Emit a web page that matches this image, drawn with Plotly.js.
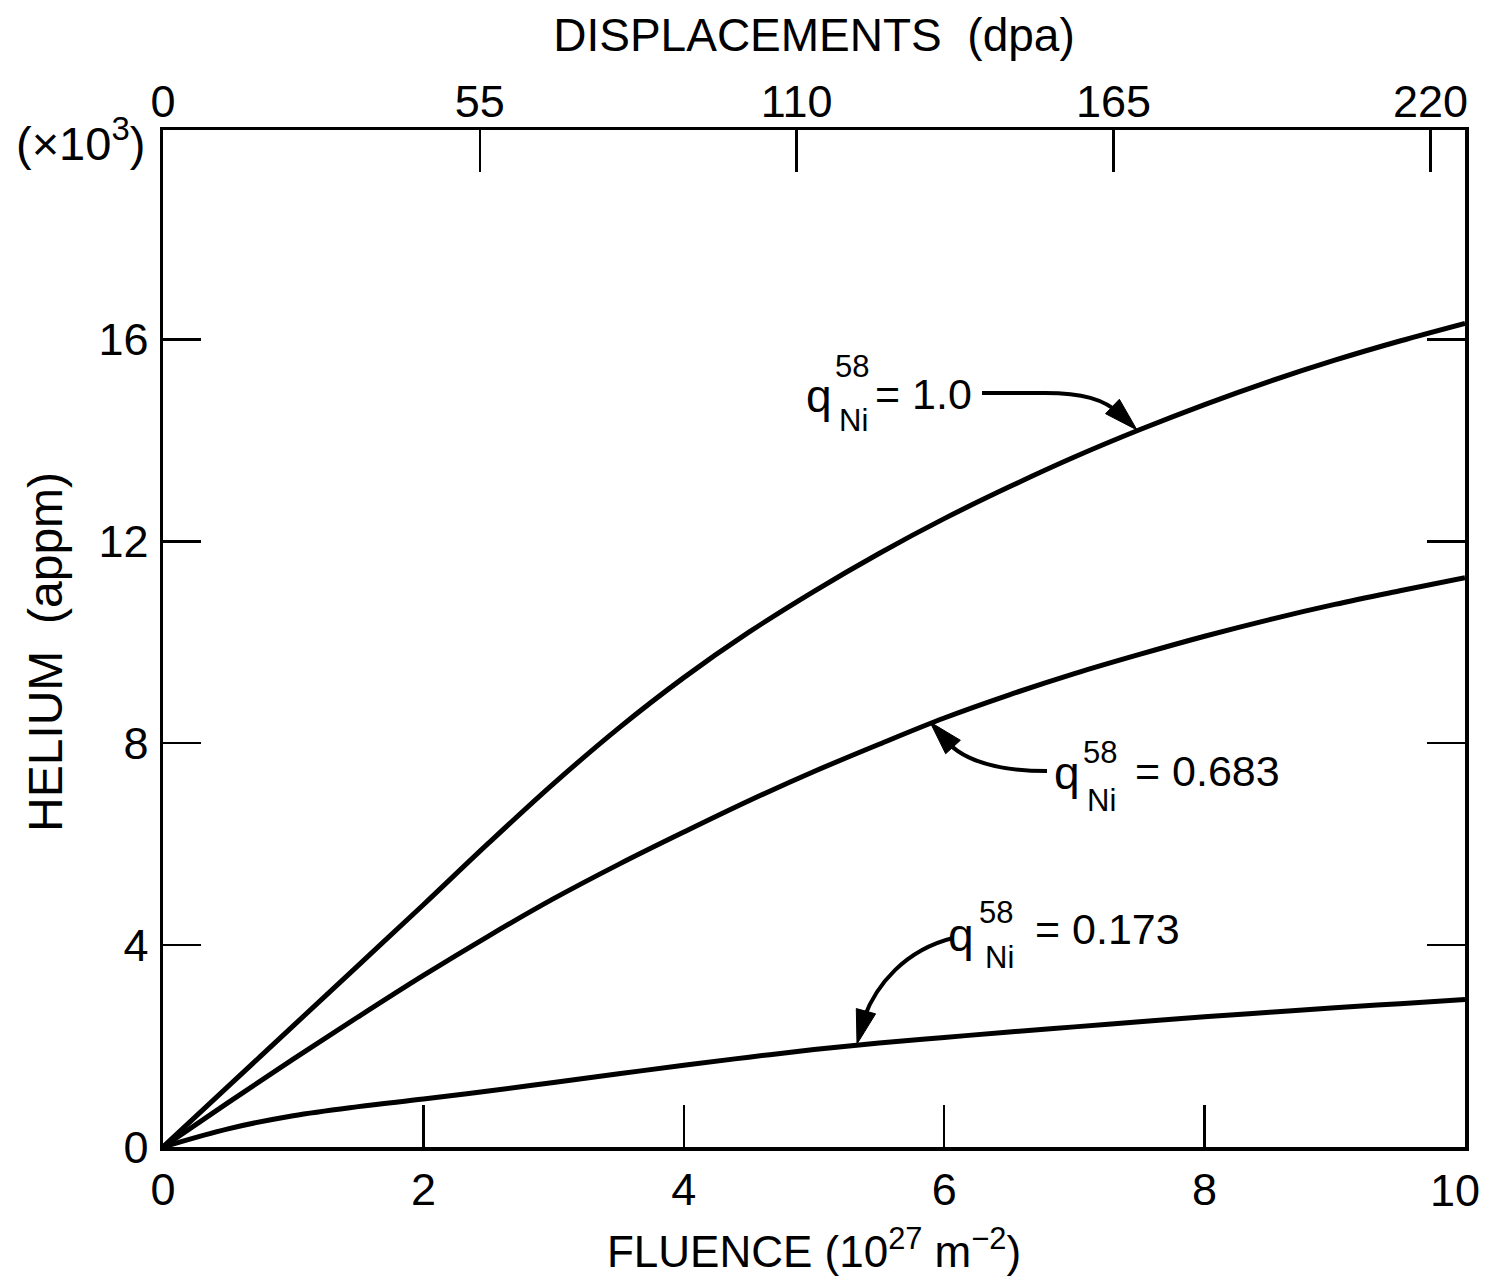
<!DOCTYPE html>
<html>
<head>
<meta charset="utf-8">
<script src="https://cdn.plot.ly/plotly-3.0.1.min.js"></script>
<style>html,body{margin:0;padding:0;background:#fff;}#chart{width:1488px;height:1276px;}</style>
</head>
<body>
<div id="chart"></div>
<script>
// ---- data ----
const fluence = [0, 0.5, 1, 1.5, 2, 2.5, 3, 3.5, 4, 4.5, 5, 5.5, 6, 6.5, 7, 7.5, 8, 8.5, 9, 9.5, 10];
const heliumQ1000 = [0, 1.2, 2.4, 3.6, 4.8, 6.02, 7.2, 8.3, 9.3, 10.2, 11.01, 11.76, 12.45, 13.08, 13.67, 14.21, 14.71, 15.17, 15.59, 15.97, 16.32];
const heliumQ0683 = [0, 0.88, 1.74, 2.58, 3.4, 4.18, 4.92, 5.6, 6.24, 6.86, 7.44, 7.98, 8.5, 8.96, 9.38, 9.76, 10.12, 10.45, 10.75, 11.02, 11.28];
const heliumQ0173 = [0, 0.36, 0.62, 0.8, 0.95, 1.11, 1.28, 1.45, 1.62, 1.78, 1.93, 2.06, 2.17, 2.28, 2.38, 2.48, 2.58, 2.67, 2.76, 2.84, 2.92];
const qValues = ['1.0', '0.683', '0.173'];
const fluenceTicks = [0, 2, 4, 6, 8, 10];
const heliumTicks = [0, 4, 8, 12, 16];
const dpaTicks = [0, 55, 110, 165, 220];

// ---- geometry ----
const W = 1488, H = 1276;
const M = {l: 163, r: 23, t: 130, b: 129};
const XMAX = 10, YMAX = 20.15, DPAMAX = 226;
const pw = W - M.l - M.r, ph = H - M.t - M.b;
const dx = px => (px - M.l) / pw * XMAX;
const dy = py => (H - M.b - py) / ph * YMAX;
const px2paperX = px => (px - M.l) / pw;
const px2paperY = py => (H - M.b - py) / ph;
const pt = p => dx(p[0]).toFixed(4) + ',' + dy(p[1]).toFixed(4);

const FONT = 'Liberation Sans, Arial, Helvetica, sans-serif';

const curveStyle = {color: '#000', width: 5, shape: 'spline', smoothing: 1};
const traces = [
  {x: fluence, y: heliumQ1000, mode: 'lines', line: curveStyle, hoverinfo: 'skip', name: 'q=' + qValues[0]},
  {x: fluence, y: heliumQ0683, mode: 'lines', line: curveStyle, hoverinfo: 'skip', name: 'q=' + qValues[1]},
  {x: fluence, y: heliumQ0173, mode: 'lines', line: curveStyle, hoverinfo: 'skip', name: 'q=' + qValues[2]},
  {x: dpaTicks, y: dpaTicks.map(() => null), xaxis: 'x2', yaxis: 'y', mode: 'markers', marker: {opacity: 0}, hoverinfo: 'skip', showlegend: false}
];

// label pieces (pixel positions)
const labels = [
  {q: [819, 396], sup: [852, 366], sub: [853, 420], eq: [873, 394], val: qValues[0]},
  {q: [1067, 773], sup: [1100, 752], sub: [1101, 800], eq: [1133, 771], val: qValues[1]},
  {q: [961, 935], sup: [996, 912], sub: [999, 957], eq: [1033, 929], val: qValues[2]}
];
const annotations = [];
labels.forEach(L => {
  annotations.push({x: dx(L.q[0]), y: dy(L.q[1]), xref: 'x', yref: 'y', text: 'q', showarrow: false, xanchor: 'center', yanchor: 'middle', font: {family: FONT, size: 46, color: '#000'}});
  annotations.push({x: dx(L.sup[0]), y: dy(L.sup[1]), xref: 'x', yref: 'y', text: '58', showarrow: false, xanchor: 'center', yanchor: 'middle', font: {family: FONT, size: 31, color: '#000'}});
  annotations.push({x: dx(L.sub[0]), y: dy(L.sub[1]), xref: 'x', yref: 'y', text: 'Ni', showarrow: false, xanchor: 'center', yanchor: 'middle', font: {family: FONT, size: 31, color: '#000'}});
  annotations.push({x: dx(L.eq[0]), y: dy(L.eq[1]), xref: 'x', yref: 'y', text: '= ' + L.val, showarrow: false, xanchor: 'left', yanchor: 'middle', font: {family: FONT, size: 43, color: '#000'}});
});
// (x10^3) multiplier
annotations.push({x: px2paperX(80), y: px2paperY(140), xref: 'paper', yref: 'paper', text: '(×10<sup>3</sup>)', showarrow: false, xanchor: 'center', yanchor: 'middle', font: {family: FONT, size: 47, color: '#000'}});
// y axis title
annotations.push({x: px2paperX(45), y: px2paperY(652), xref: 'paper', yref: 'paper', text: 'HELIUM  (appm)', textangle: -90, showarrow: false, xanchor: 'center', yanchor: 'middle', font: {family: FONT, size: 48, color: '#000'}});
// last fluence tick label, drawn slightly inside the right edge as in the reference
const lastTick = fluenceTicks[fluenceTicks.length - 1];
const axisTicks = fluenceTicks.slice(0, -1);
annotations.push({x: lastTick, y: px2paperY(1190), xref: 'x', yref: 'paper', xshift: -10, text: String(lastTick), showarrow: false, xanchor: 'center', yanchor: 'middle', font: {family: FONT, size: 45, color: '#000'}});

// curved arrow shafts (pixel control points)
const shafts = [
  'M' + pt([982, 393]) + ' L' + pt([1045, 393]) + ' C' + pt([1082, 393]) + ' ' + pt([1104, 399]) + ' ' + pt([1120, 414]),
  'M' + pt([1047, 771]) + ' C' + pt([990, 771]) + ' ' + pt([958, 758]) + ' ' + pt([942, 736]),
  'M' + pt([953, 938]) + ' C' + pt([905, 950]) + ' ' + pt([876, 985]) + ' ' + pt([864, 1018])
];
const shapes = shafts.map(p => ({type: 'path', xref: 'x', yref: 'y', path: p, line: {color: '#000', width: 4}}));

// arrow heads as filled triangles: tip pixel and direction (pixel vector pointing to tip)
const heads = [
  {tip: [1137, 430], dir: [24, 23]},
  {tip: [930, 722], dir: [-23, -25]},
  {tip: [857, 1044], dir: [-9, 33]}
];
heads.forEach(h => {
  const len = Math.hypot(h.dir[0], h.dir[1]);
  const ux = h.dir[0] / len, uy = h.dir[1] / len;
  const L = 34, w = 10;
  const bx = h.tip[0] - L * ux, by = h.tip[1] - L * uy;
  const p1 = [bx - w * uy, by + w * ux], p2 = [bx + w * uy, by - w * ux];
  shapes.push({type: 'path', xref: 'x', yref: 'y', path: 'M' + pt(h.tip) + ' L' + pt(p1) + ' L' + pt(p2) + ' Z', fillcolor: '#000', line: {color: '#000', width: 1}});
});

const axisCommon = {
  ticks: 'inside', tickwidth: 2.5, tickcolor: '#000',
  showgrid: false, zeroline: false, ticklabeloverflow: 'allow',
  tickfont: {family: FONT, size: 45, color: '#000'}
};

const layout = {
  width: W, height: H,
  margin: M,
  paper_bgcolor: '#fff', plot_bgcolor: '#fff',
  showlegend: false,
  font: {family: FONT, color: '#000'},
  xaxis: Object.assign({}, axisCommon, {
    range: [0, XMAX], tickvals: axisTicks, ticktext: axisTicks.map(String),
    ticklen: 42, showline: true, linewidth: 3.5, linecolor: '#000', mirror: true,
    ticklabelstandoff: 0,
    title: {text: 'FLUENCE (10<sup>27</sup> m<sup>−2</sup>)', font: {family: FONT, size: 44, color: '#000'}, standoff: 26}
  }),
  xaxis2: Object.assign({}, axisCommon, {
    overlaying: 'x', side: 'top', anchor: 'y',
    range: [0, DPAMAX], tickvals: dpaTicks, ticktext: dpaTicks.map(String),
    ticklen: 42, showline: false,
    ticklabelstandoff: 3,
    title: {text: 'DISPLACEMENTS  (dpa)', font: {family: FONT, size: 46, color: '#000'}, standoff: 9}
  }),
  yaxis: Object.assign({}, axisCommon, {
    range: [0, YMAX], tickvals: heliumTicks, ticktext: heliumTicks.map(String),
    ticklen: 38, showline: true, linewidth: 3.5, linecolor: '#000', mirror: 'ticks',
    ticklabelstandoff: 2
  }),
  annotations: annotations,
  shapes: shapes
};

Plotly.newPlot('chart', traces, layout, {displayModeBar: false, staticPlot: true});
</script>
</body>
</html>
